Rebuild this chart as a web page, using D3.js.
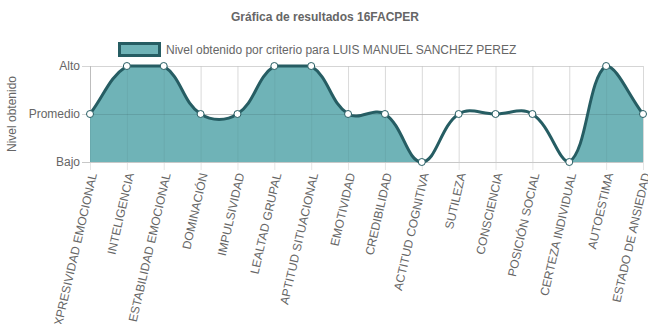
<!DOCTYPE html>
<html><head><meta charset="utf-8">
<script src="https://cdn.jsdelivr.net/npm/d3@7"></script>
<style>
body{margin:0;background:#fff;}
svg{display:block;font-family:"Liberation Sans",Arial,sans-serif;}
</style></head>
<body><svg id="c" width="648" height="324"></svg>
<script>
const categories = ["EXPRESIVIDAD EMOCIONAL","INTELIGENCIA","ESTABILIDAD EMOCIONAL","DOMINACIÓN","IMPULSIVIDAD","LEALTAD GRUPAL","APTITUD SITUACIONAL","EMOTIVIDAD","CREDIBILIDAD","ACTITUD COGNITIVA","SUTILEZA","CONSCIENCIA","POSICIÓN SOCIAL","CERTEZA INDIVIDUAL","AUTOESTIMA","ESTADO DE ANSIEDAD"];
const levels = ["Bajo","Promedio","Alto"];
const values = ["Promedio","Alto","Alto","Promedio","Promedio","Alto","Alto","Promedio","Promedio","Bajo","Promedio","Promedio","Promedio","Bajo","Alto","Promedio"];
const filledRanges = [["EXPRESIVIDAD EMOCIONAL","ACTITUD COGNITIVA"],["CERTEZA INDIVIDUAL","ESTADO DE ANSIEDAD"]];
const title = "Gráfica de resultados 16FACPER";
const seriesName = "Nivel obtenido por criterio para LUIS MANUEL SANCHEZ PEREZ";
const yTitle = "Nivel obtenido";

const svg = d3.select("#c");
const L = 90, R = 643, T = 66, B = 162;
const x = d3.scalePoint().domain(categories).range([L, R]);
const y = d3.scalePoint().domain(levels).range([B, T]);
const grid = "#e5e5e5", txt = "#666";
const fillC = "#6fb3b7", lineC = "#265d63";

// grid lines
const g = svg.append("g");
g.selectAll(".vg").data(categories).join("line")
  .attr("x1", d => x(d)+0.5).attr("x2", d => x(d)+0.5)
  .attr("y1", T).attr("y2", B + 8)
  .attr("stroke", grid).attr("stroke-width", 1);
g.selectAll(".hg").data(levels).join("line")
  .attr("x1", L - 8).attr("x2", R)
  .attr("y1", d => y(d)+0.5).attr("y2", d => y(d)+0.5)
  .attr("stroke", d => d === "Bajo" ? "#c8c8c8" : "#d5d5d5").attr("stroke-width", 1);
g.append("line").attr("x1", L+0.5).attr("x2", L+0.5).attr("y1", T).attr("y2", B)
  .attr("stroke", "#c8c8c8");

// y labels
svg.append("g").selectAll("text").data(levels).join("text")
  .attr("x", L - 10).attr("y", d => y(d)).attr("dy", "0.35em")
  .attr("text-anchor", "end").attr("font-size", 12).attr("fill", txt).text(d => d);

// y title
svg.append("text").attr("transform", `translate(16,${(T+B)/2}) rotate(-90)`)
  .attr("text-anchor", "middle").attr("font-size", 12).attr("fill", txt).text(yTitle);

// x labels
svg.append("g").selectAll("text").data(categories).join("text")
  .attr("transform", d => `translate(${x(d)+3},${B+11}) rotate(-77)`)
  .attr("text-anchor", "end").attr("dy", "0.35em")
  .attr("font-size", 12).attr("fill", txt).text(d => d);

// Chart.js-style spline
const pts = categories.map((c, i) => ({x: x(c), y: y(values[i])}));
const t = 0.4;
const cap = (v, lo, hi) => Math.max(lo, Math.min(hi, v));
pts.forEach((p, i) => {
  const prev = pts[i-1] || p, next = pts[i+1] || p;
  const d01 = Math.hypot(p.x-prev.x, p.y-prev.y), d12 = Math.hypot(next.x-p.x, next.y-p.y);
  let s01 = d01/(d01+d12), s12 = d12/(d01+d12);
  if (isNaN(s01)) s01 = 0; if (isNaN(s12)) s12 = 0;
  const fa = t*s01, fb = t*s12;
  p.cpx0 = cap(p.x - fa*(next.x-prev.x), L, R); p.cpy0 = cap(p.y - fa*(next.y-prev.y), T, B);
  p.cpx1 = cap(p.x + fb*(next.x-prev.x), L, R); p.cpy1 = cap(p.y + fb*(next.y-prev.y), T, B);
});
function curvePath(path) {
  path.moveTo(pts[0].x, pts[0].y);
  for (let i = 1; i < pts.length; i++) {
    const a = pts[i-1], b = pts[i];
    path.bezierCurveTo(a.cpx1, a.cpy1, b.cpx0, b.cpy0, b.x, b.y);
  }
  return path;
}
const lp = curvePath(d3.path());
const ap = curvePath(d3.path());
ap.lineTo(pts[pts.length-1].x, B); ap.lineTo(pts[0].x, B); ap.closePath();

const cp = svg.append("clipPath").attr("id", "fc");
cp.selectAll("rect").data(filledRanges).join("rect")
  .attr("x", d => x(d[0])).attr("width", d => x(d[1]) - x(d[0]))
  .attr("y", 0).attr("height", 324);
svg.append("path").attr("d", ap.toString()).attr("fill", fillC).attr("fill-opacity", 1)
  .attr("clip-path", "url(#fc)");

// gridlines faintly through fill
svg.append("g").selectAll("line").data(levels.filter(d => d === "Promedio")).join("line")
  .attr("x1", L).attr("x2", R).attr("y1", d => y(d)+0.5).attr("y2", d => y(d)+0.5)
  .attr("stroke", "rgba(0,0,0,0.1)");
svg.append("g").selectAll("line").data(categories).join("line")
  .attr("x1", d => x(d)+0.5).attr("x2", d => x(d)+0.5).attr("y1", T).attr("y2", B)
  .attr("stroke", "rgba(0,0,0,0.05)");

svg.append("path").attr("d", lp.toString()).attr("fill", "none")
  .attr("stroke", lineC).attr("stroke-width", 3);

svg.append("g").selectAll("circle").data(pts).join("circle")
  .attr("cx", d => d.x).attr("cy", d => d.y).attr("r", 3.5)
  .attr("fill", "#fff").attr("stroke", lineC).attr("stroke-width", 1);

// title
svg.append("text").attr("x", 325).attr("y", 21).attr("text-anchor", "middle")
  .attr("font-size", 12).attr("font-weight", "bold").attr("fill", txt).text(title);

// legend
svg.append("rect").attr("x", 119.5).attr("y", 43.5).attr("width", 40).attr("height", 12)
  .attr("fill", fillC).attr("stroke", lineC).attr("stroke-width", 3);
svg.append("text").attr("x", 166).attr("y", 50).attr("dy", "0.35em")
  .attr("font-size", 12).attr("fill", txt).text(seriesName);
</script></body></html>
